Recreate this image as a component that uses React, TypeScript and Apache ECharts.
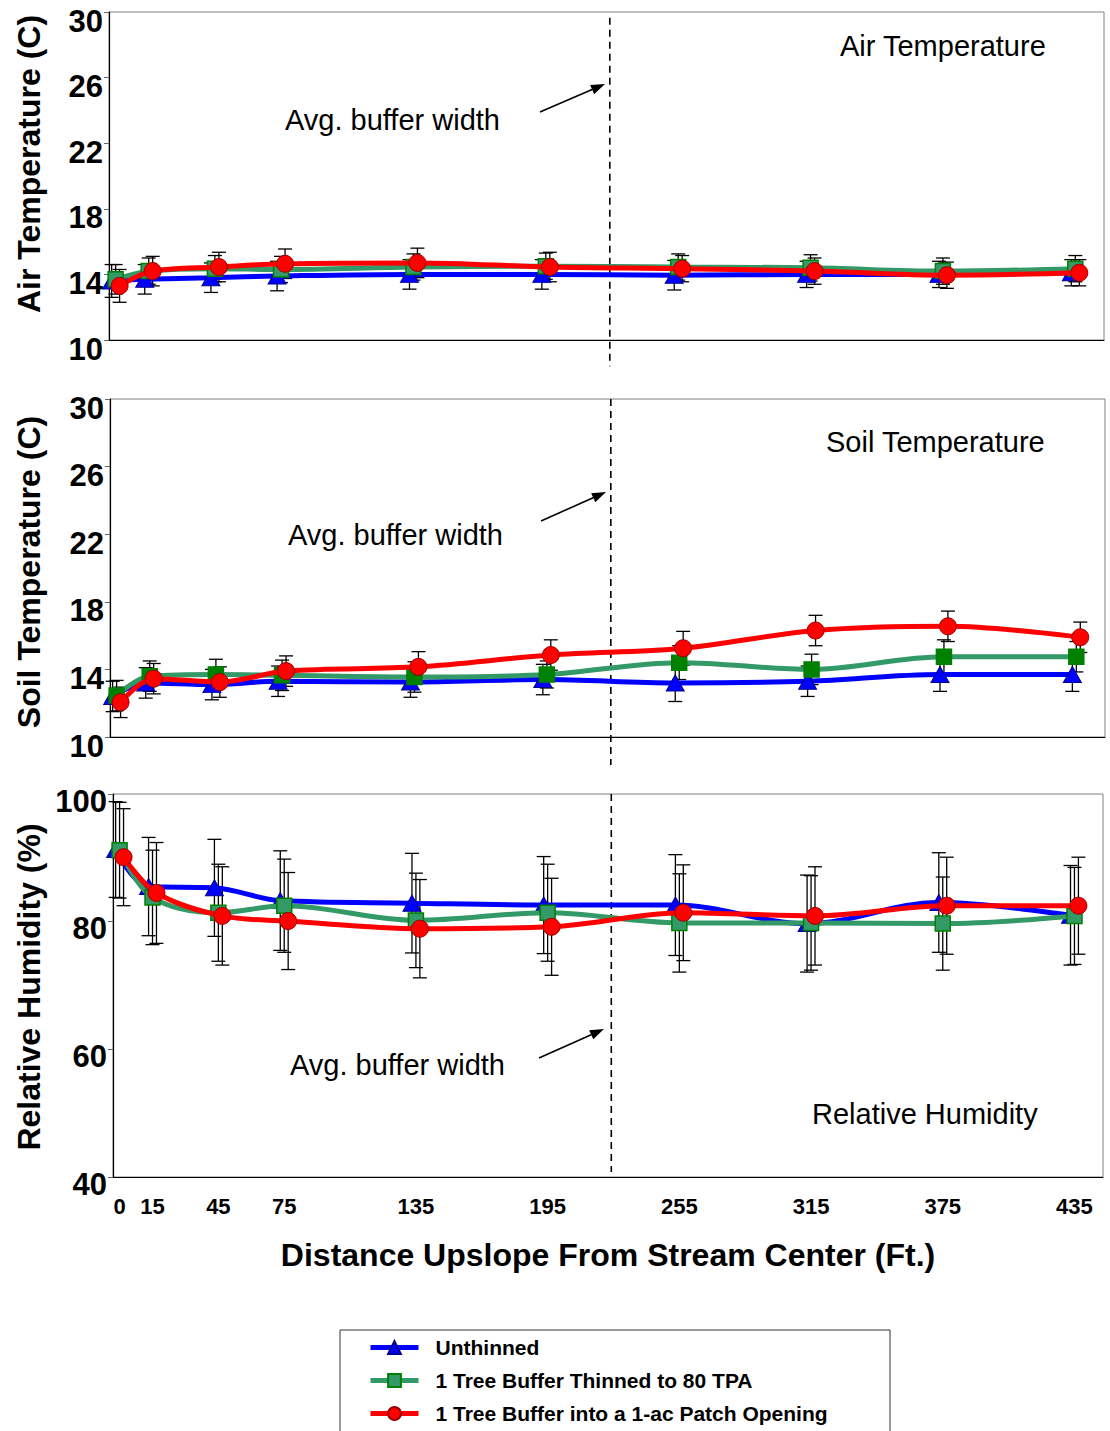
import React, { useEffect, useRef } from "react";
import * as echarts from "echarts";

// ---------- data ----------
const distances = [0, 15, 45, 75, 135, 195, 255, 315, 375, 435];
const distanceLabels = ["0", "15", "45", "75", "135", "195", "255", "315", "375", "435"];
const seriesNames = [
  "Unthinned",
  "1 Tree Buffer Thinned to 80 TPA",
  "1 Tree Buffer into a 1-ac Patch Opening",
];
const avgBufferWidth = 224;

// Air temperature (C)
const airUnthinned = [13.6, 13.7, 13.8, 13.9, 14.0, 14.0, 13.95, 14.0, 14.0, 14.1];
const airThinned = [13.7, 14.2, 14.35, 14.3, 14.45, 14.5, 14.45, 14.4, 14.2, 14.35];
const airPatch = [13.3, 14.2, 14.45, 14.65, 14.7, 14.45, 14.35, 14.2, 13.95, 14.1];
const airUnthinnedErr = [1.0, 0.9, 0.9, 0.9, 0.9, 0.9, 0.9, 0.8, 0.8, 0.8];
const airThinnedErr = [0.9, 0.8, 0.8, 0.8, 0.8, 0.8, 0.8, 0.8, 0.8, 0.8];
const airPatchErr = [1.0, 0.9, 0.9, 0.9, 0.9, 0.9, 0.8, 0.8, 0.8, 0.8];

// Soil temperature (C)
const soilUnthinned = [12.4, 13.2, 13.1, 13.3, 13.25, 13.4, 13.2, 13.3, 13.7, 13.7];
const soilThinned = [12.45, 13.6, 13.7, 13.65, 13.55, 13.7, 14.4, 14.0, 14.75, 14.75];
const soilPatch = [12.05, 13.45, 13.25, 13.9, 14.15, 14.85, 15.25, 16.3, 16.55, 15.9];
const soilUnthinnedErr = [0.9, 0.9, 0.9, 0.9, 0.9, 0.9, 1.1, 0.9, 1.0, 1.0];
const soilThinnedErr = [0.9, 0.9, 0.9, 0.9, 0.9, 0.8, 1.0, 0.9, 1.0, 0.9];
const soilPatchErr = [0.9, 0.9, 0.9, 0.9, 0.9, 0.9, 1.0, 0.9, 0.9, 0.9];

// Relative humidity (%)
const rhUnthinned = [91.3, 85.5, 85.3, 83.3, 82.9, 82.6, 82.6, 79.7, 83.0, 81.0];
const rhThinned = [91.2, 83.8, 81.4, 82.5, 80.2, 81.4, 79.8, 79.8, 79.7, 80.9];
const rhPatch = [90.1, 84.5, 80.9, 80.1, 78.9, 79.2, 81.4, 80.9, 82.5, 82.5];
const rhUnthinnedErr = [7.5, 7.7, 7.6, 7.8, 7.8, 7.6, 7.9, 7.6, 7.8, 7.8];
const rhThinnedErr = [7.5, 7.4, 7.6, 7.3, 7.4, 7.6, 7.7, 7.4, 7.3, 7.6];
const rhPatchErr = [7.6, 7.9, 7.7, 7.6, 7.7, 7.6, 7.5, 7.7, 7.6, 7.6];

// ---------- layout / style ----------
const FONT = "Arial, 'Liberation Sans', Helvetica, sans-serif";
const COLORS = ["#0000FF", "#339966", "#FF0000"];
const JITTER = [-1.8, 0, 1.8];

const panels = [
  {
    title: "Air Temperature",
    yName: "Air Temperature (C)",
    min: 10, max: 30, interval: 4,
    grid: { left: 109, top: 12, width: 995, height: 328 },
    values: [airUnthinned, airThinned, airPatch],
    errors: [airUnthinnedErr, airThinnedErr, airPatchErr],
    dashRange: [29.65, 8.4],
    squareFill: "#339966",
    labelLineHeight: 18,
    yNamePos: [29, 164],
    titlePos: [840, 46],
    notePos: [285, 120],
    arrow: [540, 112, 605, 84],
  },
  {
    title: "Soil Temperature",
    yName: "Soil Temperature (C)",
    min: 10, max: 30, interval: 4,
    grid: { left: 110, top: 399, width: 995, height: 338 },
    values: [soilUnthinned, soilThinned, soilPatch],
    errors: [soilUnthinnedErr, soilThinnedErr, soilPatchErr],
    dashRange: [30, 8.35],
    squareFill: "#008000",
    labelLineHeight: 18,
    yNamePos: [29, 572],
    titlePos: [826, 442],
    notePos: [288, 535],
    arrow: [541, 521, 606, 492],
  },
  {
    title: "Relative Humidity",
    yName: "Relative Humidity (%)",
    min: 40, max: 100, interval: 20,
    grid: { left: 113, top: 794, width: 990, height: 383 },
    values: [rhUnthinned, rhThinned, rhPatch],
    errors: [rhUnthinnedErr, rhThinnedErr, rhPatchErr],
    dashRange: [100, 40.8],
    squareFill: "#339966",
    labelLineHeight: 14,
    yNamePos: [29, 987],
    titlePos: [812, 1114],
    notePos: [290, 1065],
    arrow: [539, 1058, 604, 1029],
  },
];

function arrowGraphics(a: number[]) {
  const [x1, y1, x2, y2] = a;
  const dx = x2 - x1, dy = y2 - y1;
  const len = Math.sqrt(dx * dx + dy * dy);
  const ux = dx / len, uy = dy / len;
  const hl = 14, hw = 5;
  const bx = x2 - ux * hl, by = y2 - uy * hl;
  const px = -uy * hw, py = ux * hw;
  return [
    { type: "line", shape: { x1, y1, x2: bx, y2: by }, style: { stroke: "#000", lineWidth: 1.6 } },
    {
      type: "polygon",
      shape: { points: [[x2, y2], [bx + px, by + py], [bx - px, by - py]] },
      style: { fill: "#000" },
    },
  ];
}

function buildOption() {
  const grids: any[] = [];
  const xAxes: any[] = [];
  const yAxes: any[] = [];
  const series: any[] = [];
  const graphic: any[] = [];

  panels.forEach((p, i) => {
    grids.push({ ...p.grid, show: true, borderColor: "#808080", borderWidth: 1, containLabel: false });
    const isLast = i === panels.length - 1;
    xAxes.push({
      type: "value",
      gridIndex: i,
      min: -3,
      max: 448,
      splitLine: { show: false },
      axisLine: { show: true, onZero: false, lineStyle: { color: "#000", width: 1 } },
      axisTick: { show: false },
      axisLabel: isLast
        ? {
            show: true,
            customValues: distances,
            formatter: (v: number) => distanceLabels[distances.indexOf(v)] ?? "",
            fontSize: 22,
            fontWeight: "bold",
            fontFamily: FONT,
            color: "#000",
            margin: 18,
          }
        : { show: false },
      name: isLast ? "Distance Upslope From Stream Center (Ft.)" : "",
      nameLocation: "middle",
      nameGap: 62,
      nameTextStyle: { fontSize: 32, fontWeight: "bold", fontFamily: FONT, color: "#000" },
    });
    yAxes.push({
      type: "value",
      gridIndex: i,
      min: p.min,
      max: p.max,
      interval: p.interval,
      splitLine: { show: false },
      axisLine: { show: true, onZero: false, lineStyle: { color: "#000", width: 1.2 } },
      axisTick: { show: true, length: 5, lineStyle: { color: "#666" } },
      axisLabel: {
        fontSize: 31,
        fontWeight: "bold",
        fontFamily: FONT,
        color: "#000",
        margin: 6,
        verticalAlign: "top",
        lineHeight: p.labelLineHeight,
      },
    });

    // dashed avg buffer width line
    series.push({
      type: "custom",
      xAxisIndex: i,
      yAxisIndex: i,
      z: 1,
      silent: true,
      encode: { x: 0, y: [1, 2] },
      data: [[avgBufferWidth, p.dashRange[0], p.dashRange[1]]],
      renderItem: (params: any, api: any) => {
        const a = api.coord([api.value(0), api.value(1)]);
        const b = api.coord([api.value(0), api.value(2)]);
        return {
          type: "line",
          shape: { x1: a[0], y1: a[1], x2: b[0], y2: b[1] },
          style: { stroke: "#000", lineWidth: 1.6, lineDash: [7, 5] },
        };
      },
    });

    p.values.forEach((vals, j) => {
      const errs = p.errors[j];
      // error bars
      series.push({
        type: "custom",
        xAxisIndex: i,
        yAxisIndex: i,
        z: 2,
        silent: true,
        encode: { x: 0, y: [1, 2] },
        data: distances.map((d, k) => [d + JITTER[j], vals[k] - errs[k], vals[k] + errs[k]]),
        renderItem: (params: any, api: any) => {
          const lo = api.coord([api.value(0), api.value(1)]);
          const hi = api.coord([api.value(0), api.value(2)]);
          const hw = 7;
          const st = { stroke: "#000", lineWidth: 1.3 };
          return {
            type: "group",
            children: [
              { type: "line", shape: { x1: lo[0], y1: lo[1], x2: hi[0], y2: hi[1] }, style: st },
              { type: "line", shape: { x1: lo[0] - hw, y1: lo[1], x2: lo[0] + hw, y2: lo[1] }, style: st },
              { type: "line", shape: { x1: hi[0] - hw, y1: hi[1], x2: hi[0] + hw, y2: hi[1] }, style: st },
            ],
          };
        },
      });
      const symbol = j === 0 ? "triangle" : j === 1 ? "rect" : "circle";
      const symbolSize = j === 0 ? [18, 16] : j === 1 ? 15 : 17;
      const itemStyle =
        j === 0
          ? { color: "#0000FF", borderColor: "#00008B", borderWidth: 1 }
          : j === 1
          ? { color: p.squareFill, borderColor: "#008000", borderWidth: 1.5 }
          : { color: "#FF0000", borderColor: "#990000", borderWidth: 1 };
      series.push({
        type: "line",
        name: seriesNames[j],
        xAxisIndex: i,
        yAxisIndex: i,
        z: 3 + j,
        smooth: 0.35,
        data: distances.map((d, k) => [d + JITTER[j], vals[k]]),
        symbol,
        symbolSize,
        showSymbol: true,
        lineStyle: { color: COLORS[j], width: 5 },
        itemStyle,
        emphasis: { disabled: true },
      });
    });

    // texts
    graphic.push({
      type: "text",
      x: p.yNamePos[0],
      y: p.yNamePos[1],
      rotation: Math.PI / 2,
      style: {
        text: p.yName,
        fontSize: 32,
        fontWeight: "bold",
        fontFamily: FONT,
        fill: "#000",
        align: "center",
        verticalAlign: "middle",
      },
    });
    graphic.push({
      type: "text",
      x: p.titlePos[0],
      y: p.titlePos[1],
      style: { text: p.title, fontSize: 29, fontFamily: FONT, fill: "#000", align: "left", verticalAlign: "middle" },
    });
    graphic.push({
      type: "text",
      x: p.notePos[0],
      y: p.notePos[1],
      style: { text: "Avg. buffer width", fontSize: 29, fontFamily: FONT, fill: "#000", align: "left", verticalAlign: "middle" },
    });
    arrowGraphics(p.arrow).forEach((g) => graphic.push(g));
  });

  graphic.push({
    type: "rect",
    z: -1,
    shape: { x: 340, y: 1330, width: 550, height: 130 },
    style: { fill: "#fff", stroke: "#333", lineWidth: 1 },
  });

  return {
    animation: false,
    backgroundColor: "#fff",
    grid: grids,
    xAxis: xAxes,
    yAxis: yAxes,
    series,
    graphic,
    legend: {
      data: seriesNames,
      orient: "vertical",
      left: 368,
      top: 1337,
      padding: 0,
      itemWidth: 48,
      itemHeight: 16,
      itemGap: 12,
      selectedMode: false,
      lineStyle: { width: 5 },
      textStyle: {
        fontSize: 21,
        fontWeight: "bold",
        fontFamily: FONT,
        color: "#000",
        padding: [0, 0, 0, 12],
      },
    },
  };
}

export default function App() {
  const ref = useRef<HTMLDivElement>(null);
  useEffect(() => {
    if (!ref.current) return;
    const chart = echarts.init(ref.current, undefined, { renderer: "svg" });
    chart.setOption(buildOption() as any);
    return () => chart.dispose();
  }, []);
  return (
    <div
      ref={ref}
      style={{ position: "absolute", left: 0, top: 0, width: 1110, height: 1431, background: "#fff" }}
    />
  );
}
